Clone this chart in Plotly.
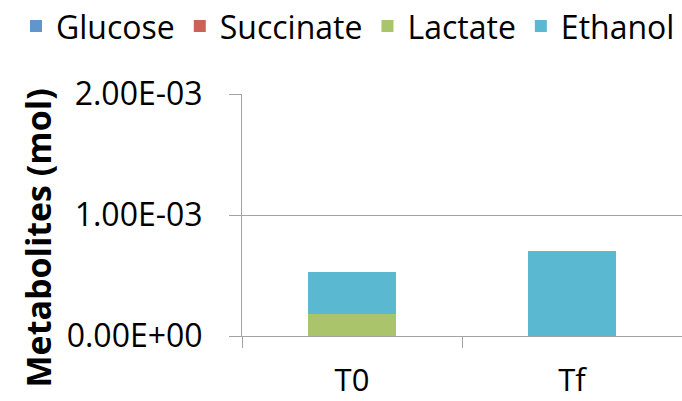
import plotly.graph_objects as go

categories = ["T0", "Tf"]
glucose = [0.0, 0.0]
succinate = [0.0, 0.0]
lactate = [0.185e-3, 0.0]
ethanol = [0.345e-3, 0.703e-3]

y_tickvals = [0.0, 1.0e-3, 2.0e-3]
y_ticktext = ["0.00E+00", "1.00E-03", "2.00E-03"]
y_title = "Metabolites (mol)"

series = [
    ("Glucose", glucose, "#6096CB"),
    ("Succinate", succinate, "#CD6158"),
    ("Lactate", lactate, "#AAC46B"),
    ("Ethanol", ethanol, "#5BB8D1"),
]

FONT = "Open Sans"
GRID = "#A3A3A3"

fig = go.Figure()
for name, vals, color in series:
    fig.add_trace(go.Bar(x=categories, y=vals, name=name,
                         marker=dict(color=color, line=dict(width=0))))

fig.update_layout(
    width=682, height=401,
    margin=dict(l=242, r=0, t=94, b=65, autoexpand=False),
    paper_bgcolor="white", plot_bgcolor="white",
    barmode="stack", bargap=0.6,
    font=dict(family=FONT, size=32, color="black"),
    showlegend=True,
    legend=dict(orientation="h", traceorder="normal",
                xref="paper", yref="paper",
                x=-0.5136, y=1.28, xanchor="left", yanchor="middle",
                font=dict(family=FONT, size=32, color="black"),
                bgcolor="rgba(0,0,0,0)"),
    annotations=[dict(text="<b>" + y_title + "</b>", textangle=-90,
                      xref="paper", yref="paper", x=-0.4636, y=0.403,
                      xanchor="center", yanchor="middle", showarrow=False,
                      font=dict(family=FONT, size=34, color="black"))],
)

fig.update_xaxes(
    type="category", showline=True, linecolor=GRID, linewidth=1,
    ticks="outside", tickson="boundaries", ticklen=11, tickcolor=GRID,
    showgrid=False, tickfont=dict(family=FONT, size=31),
    ticklabelstandoff=17, automargin=False,
)
fig.update_yaxes(
    range=[0, 2.0e-3], tickvals=y_tickvals, ticktext=y_ticktext,
    showline=True, linecolor=GRID, linewidth=1,
    ticks="outside", ticklen=12, tickcolor=GRID,
    showgrid=True, gridcolor=GRID, gridwidth=1, zeroline=False,
    tickfont=dict(family=FONT, size=32),
    ticklabelstandoff=20,
    automargin=False,
)

fig.write_html("out.html", config={"displayModeBar": False},
               post_script="document.body.style.margin='0';document.body.style.padding='0';")
